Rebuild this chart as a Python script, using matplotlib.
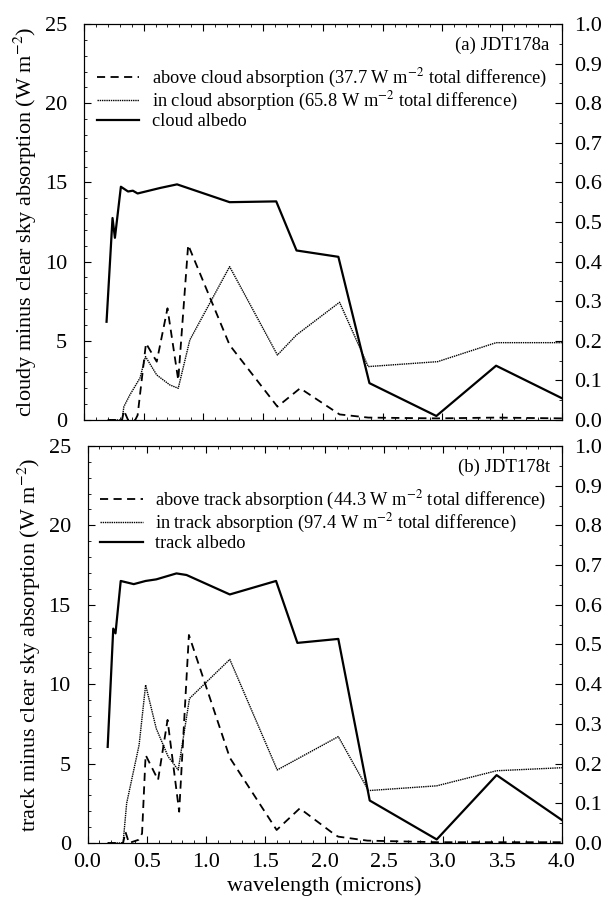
import matplotlib
matplotlib.use('Agg')
import matplotlib.pyplot as plt
from matplotlib.ticker import MultipleLocator

plt.rcParams['font.family'] = ['Liberation Serif', 'DejaVu Serif']
plt.rcParams['mathtext.fontset'] = 'stix'

# panel (a) JDT178a
wl_alb_a = [0.19, 0.24, 0.26, 0.31, 0.37, 0.41, 0.45, 0.64, 0.78, 1.22, 1.61, 1.78, 2.13, 2.39, 2.95, 3.45, 4.0]
alb_a = [0.248, 0.51, 0.46, 0.589, 0.577, 0.579, 0.572, 0.586, 0.595, 0.55, 0.552, 0.428, 0.412, 0.093, 0.01, 0.137, 0.055]

wl_in_a = [0.2, 0.32, 0.335, 0.385, 0.47, 0.516, 0.61, 0.72, 0.79, 0.887, 1.22, 1.62, 1.78, 2.14, 2.38, 2.96, 3.45, 4.0]
in_a = [0.0, 0.0, 0.84, 1.58, 2.65, 4.0, 2.84, 2.21, 2.0, 5.05, 9.68, 4.1, 5.37, 7.43, 3.37, 3.68, 4.88, 4.88]

wl_ab_a = [0.2, 0.32, 0.335, 0.37, 0.43, 0.45, 0.52, 0.61, 0.70, 0.79, 0.873, 1.22, 1.62, 1.81, 2.14, 2.38, 2.96, 3.45, 4.0]
ab_a = [0.0, 0.0, 0.6, 0.0, 0.0, 0.3, 4.84, 3.68, 7.05, 2.52, 11.05, 4.73, 0.84, 2.0, 0.35, 0.15, 0.1, 0.15, 0.1]

# panel (b) JDT178t
wl_alb_b = [0.17, 0.217, 0.236, 0.28, 0.39, 0.49, 0.58, 0.75, 0.835, 1.2, 1.59, 1.77, 2.115, 2.38, 2.945, 3.45, 4.0]
alb_b = [0.242, 0.54, 0.528, 0.66, 0.652, 0.66, 0.664, 0.679, 0.675, 0.626, 0.66, 0.504, 0.514, 0.107, 0.009, 0.171, 0.058]

wl_in_b = [0.17, 0.30, 0.33, 0.435, 0.49, 0.58, 0.68, 0.765, 0.86, 1.2, 1.6, 2.115, 2.37, 2.945, 3.45, 4.0]
in_b = [0.0, 0.0, 2.5, 6.17, 9.95, 7.2, 5.44, 4.6, 9.1, 11.56, 4.6, 6.7, 3.3, 3.6, 4.55, 4.74]

wl_ab_b = [0.17, 0.30, 0.32, 0.35, 0.43, 0.46, 0.49, 0.595, 0.675, 0.773, 0.855, 1.2, 1.595, 1.79, 2.09, 2.115, 2.36, 2.95, 3.45, 4.0]
ab_b = [0.0, 0.0, 0.7, 0.0, 0.2, 0.6, 5.54, 3.97, 7.75, 1.97, 13.1, 5.37, 0.82, 2.18, 0.5, 0.4, 0.15, 0.05, 0.05, 0.05]

panels = [
    dict(pos=[0.137, 0.538, 0.781, 0.4356], tag='(a) JDT178a', word='cloud',
         tot_ab='37.7', tot_in='65.8', ylab='cloudy minus clear sky absorption (W m$^{-2}$)',
         wa=wl_ab_a, a=ab_a, wi=wl_in_a, i=in_a, wl=wl_alb_a, al=alb_a),
    dict(pos=[0.143, 0.0726, 0.775, 0.4368], tag='(b) JDT178t', word='track',
         tot_ab='44.3', tot_in='97.4', ylab='track minus clear sky absorption (W m$^{-2}$)',
         wa=wl_ab_b, a=ab_b, wi=wl_in_b, i=in_b, wl=wl_alb_b, al=alb_b),
]

fig = plt.figure(figsize=(6.12, 9.09), dpi=100)

for k, p in enumerate(panels):
    ax = fig.add_axes(p['pos'])
    ax2 = ax.twinx()
    l1, = ax.plot(p['wa'], p['a'], color='black', lw=1.3, ls=(0, (4.5, 3)))
    l2, = ax.plot(p['wi'], p['i'], color='black', lw=1.0, ls=(0, (1, 0.6)))
    l3, = ax2.plot(p['wl'], p['al'], color='black', lw=1.6)
    ax.set_xlim(0, 4)
    ax.set_ylim(0, 25)
    ax2.set_ylim(0, 1)
    ax.xaxis.set_major_locator(MultipleLocator(0.5))
    ax.xaxis.set_minor_locator(MultipleLocator(0.1))
    ax.yaxis.set_major_locator(MultipleLocator(5))
    ax.yaxis.set_minor_locator(MultipleLocator(1))
    ax2.yaxis.set_major_locator(MultipleLocator(0.1))
    ax2.yaxis.set_minor_locator(MultipleLocator(0.05))
    ax.yaxis.set_major_formatter(plt.FormatStrFormatter('%d'))
    ax.xaxis.set_major_formatter(plt.FormatStrFormatter('%.1f'))
    ax2.yaxis.set_major_formatter(plt.FormatStrFormatter('%.1f'))
    ax.tick_params(axis='both', which='both', direction='in', top=True, labelsize=16)
    ax.tick_params(axis='y', pad=12)
    ax.tick_params(axis='x', pad=7)
    ax.tick_params(which='major', length=5)
    ax.tick_params(which='minor', length=2.5)
    ax2.tick_params(axis='y', which='both', direction='in', labelsize=16, pad=9)
    ax2.tick_params(which='major', length=5)
    ax2.tick_params(which='minor', length=2.5)
    if k == 0:
        ax.tick_params(labelbottom=False)
    else:
        ax.set_xlabel('wavelength (microns)', fontsize=16, labelpad=3)
    ax.set_ylabel(p['ylab'], fontsize=16, labelpad=4)
    for s in list(ax.spines.values()) + list(ax2.spines.values()):
        s.set_linewidth(0.8)
    ax.text(0.975, 0.968, p['tag'], transform=ax.transAxes, ha='right', va='top', fontsize=13.5)
    w = p['word']
    ax.legend([l1, l2, l3],
              ['above %s absorption (%s W m$^{-2}$ total difference)' % (w, p['tot_ab']),
               'in %s absorption (%s W m$^{-2}$ total difference)' % (w, p['tot_in']),
               '%s albedo' % w],
              loc='upper left', bbox_to_anchor=(0.0, 0.924), frameon=False, fontsize=13.2,
              handlelength=2.3, handletextpad=0.7, labelspacing=0.0, borderaxespad=0.3)

fig.savefig('out.png', dpi=100)
